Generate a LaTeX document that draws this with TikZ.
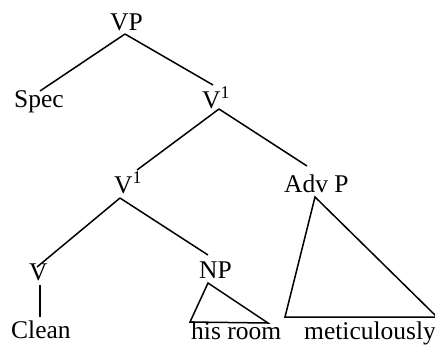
\documentclass[tikz,border=0pt]{standalone}
\usepackage{fontspec}
\setmainfont{Liberation Serif}
\begin{document}
\begin{tikzpicture}[x=1pt,y=-1pt,
  lbl/.style={inner sep=0pt,anchor=base west,font=\fontsize{25.5}{30}\selectfont},
  edge/.style={line width=1.5pt},
  tri/.style={line width=1.5pt,line join=miter}]
\useasboundingbox (0,0) rectangle (435,346);

% category labels
\node[lbl] (vp)    at (110,30)  {VP};
\node[lbl] (spec)  at (14,107)  {Spec};
\node[lbl] (vbar)  at (202,108) {V\textsuperscript{1}};
\node[lbl] (vbarl) at (114,193) {V\textsuperscript{1}};
\node[lbl] (advp)  at (284,192) {Adv P};
\node[lbl] (v)     at (29,280)  {V};
\node[lbl] (np)    at (199,278) {NP};

% words
\node[lbl] (clean) at (11,338)  {Clean};
\node[lbl] (room)  at (191,339) {his room};
\node[lbl] (meti)  at (304,339) {meticulously};

% attachment points
\coordinate (vp-b)    at (125,34);
\coordinate (spec-t)  at (40,91);
\coordinate (vbar-t)  at (213,85);
\coordinate (vbar-b)  at (219,109);
\coordinate (vbarl-t) at (137,170);
\coordinate (vbarl-b) at (120,198);
\coordinate (advp-t)  at (307,166);
\coordinate (v-t)     at (37,267);
\coordinate (v-b)     at (40,285);
\coordinate (clean-t) at (40,317);
\coordinate (np-t)    at (208,255);

% branches
\draw[edge] (vp-b) -- (spec-t);
\draw[edge] (vp-b) -- (vbar-t);
\draw[edge] (vbar-b) -- (vbarl-t);
\draw[edge] (vbar-b) -- (advp-t);
\draw[edge] (vbarl-b) -- (v-t);
\draw[edge] (vbarl-b) -- (np-t);
\draw[edge] (v-b) -- (clean-t);

% roofs
\draw[tri] (208,283) -- (190,322) -- (268,323) -- cycle;
\draw[tri] (315,197) -- (285,317) -- (437,317) -- cycle;
\end{tikzpicture}
\end{document}
